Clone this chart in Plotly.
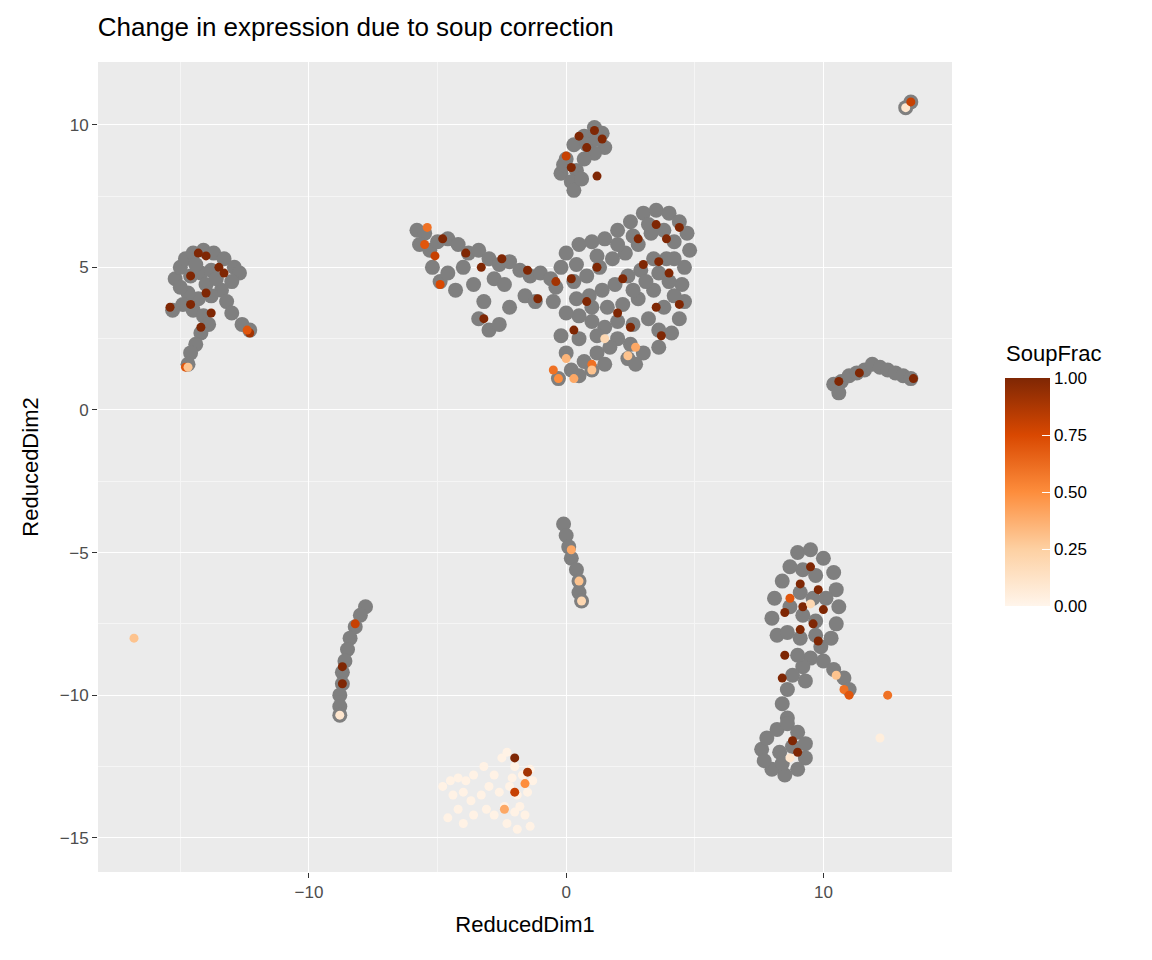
import plotly.graph_objects as go

# grey cells (no soup fraction)
grey_x = [-15.2,-15.0,-14.8,-14.5,-14.1,-13.7,-13.3,-12.9,-12.7,-13.0,-13.4,-13.8,-14.3,-14.7,-15.0,-14.6,-14.2,-13.8,-14.0,-13.6,-14.4,-14.9,-15.3,-14.5,-14.1,-13.9,-14.2,-14.4,-14.6,-14.7,-13.2,-13.0,-12.6,-12.3,
          -0.2,0.0,0.3,0.7,1.1,1.4,1.5,1.1,0.7,0.4,0.2,0.3,0.8,1.2,-0.1,0.6,
          -5.8,-5.5,-5.7,-5.3,-5.0,-4.6,-4.2,-3.8,-3.4,-3.0,-2.6,-2.2,-1.8,-1.4,-1.0,-0.6,-5.2,-4.9,-4.6,-4.0,-3.6,-3.2,-3.4,-3.0,-2.6,-2.2,-2.8,-2.4,-1.6,-1.2,-4.3,
          0.0,0.5,1.0,1.5,2.0,2.5,3.0,3.5,4.0,4.4,4.7,4.8,4.6,4.5,4.6,4.4,4.1,3.6,3.0,2.5,2.0,1.5,1.0,0.5,0.0,-0.5,-0.4,0.3,0.8,1.3,1.8,2.3,2.8,3.3,3.8,4.2,3.9,3.4,2.9,2.4,1.9,1.4,0.9,0.4,1.0,1.6,2.2,2.8,3.4,4.0,3.8,3.2,2.6,2.0,3.6,4.2,2.6,3.1,3.6,4.2,2.0,2.6,3.2,1.2,0.4,-0.2,1.7,1.2,0.7,0.2,-0.3,0.5,1.0,1.5,2.4,2.7,0.0,-0.2,0.5,1.2,
          10.4,10.7,11.0,11.3,11.6,11.9,12.2,12.5,12.8,13.1,13.4,10.6,
          13.2,13.4,
          -0.1,0.0,0.1,0.2,0.4,0.5,0.5,0.6,
          -7.8,-8.0,-8.2,-8.4,-8.5,-8.6,-8.7,-8.7,-8.8,-8.8,-8.8,
          9.0,9.5,10.0,10.4,10.5,10.6,10.5,10.3,9.9,9.5,9.2,8.8,8.6,8.4,8.6,8.2,8.0,8.1,8.4,8.7,9.2,9.7,9.1,9.6,10.1,8.7,9.2,9.7,8.6,9.1,9.7,9.0,10.0,10.4,10.8,11.0,9.3,
          7.6,7.8,8.2,8.6,9.0,9.3,9.3,9.0,8.5,8.0,7.7,8.3,8.8,8.4]
grey_y = [4.6,5.0,5.3,5.5,5.6,5.5,5.3,5.0,4.8,4.5,4.2,4.0,3.9,4.1,4.3,4.7,4.8,4.9,4.4,4.6,5.1,3.7,3.5,3.5,3.3,3.0,2.7,2.3,2.0,1.6,3.8,3.4,3.0,2.8,
          8.3,8.8,9.3,9.6,9.9,9.7,9.2,9.0,8.8,8.4,8.0,7.7,9.3,9.5,8.6,8.1,
          6.3,6.2,5.8,5.6,5.9,6.0,5.8,5.5,5.6,5.3,5.1,5.2,4.9,4.7,4.8,4.6,5.0,4.5,4.8,5.0,4.4,3.8,3.2,2.8,3.0,3.6,4.6,4.4,4.0,3.8,4.2,
          5.5,5.8,5.9,6.0,6.3,6.6,6.9,7.0,6.9,6.6,6.2,5.6,5.0,4.4,3.8,3.2,2.7,2.2,2.0,2.3,2.5,2.9,3.1,3.3,3.4,3.8,4.3,4.5,4.7,5.0,5.3,5.5,5.8,6.2,6.3,5.9,5.3,5.3,4.9,4.7,4.4,4.2,4.0,3.9,3.6,3.6,3.7,3.9,4.2,4.5,3.6,3.2,3.0,3.1,2.8,4.0,4.2,4.5,4.8,5.3,5.8,6.1,6.5,5.4,5.1,5.0,2.2,2.0,1.7,1.4,1.1,1.2,1.4,1.6,1.8,1.6,2.0,2.6,2.5,2.6,
          0.9,1.0,1.2,1.3,1.4,1.6,1.5,1.4,1.3,1.2,1.1,0.6,
          10.6,10.8,
          -4.0,-4.4,-4.8,-5.2,-5.6,-6.0,-6.4,-6.7,
          -6.9,-7.2,-7.6,-8.0,-8.4,-8.8,-9.2,-9.6,-10.0,-10.4,-10.7,
          -5.0,-4.9,-5.2,-5.7,-6.3,-6.9,-7.5,-8.0,-8.3,-8.7,-9.0,-9.3,-9.8,-10.3,-10.8,-7.9,-7.3,-6.6,-6.0,-5.5,-5.6,-5.8,-6.4,-6.6,-6.6,-6.9,-7.2,-7.4,-7.8,-8.0,-7.9,-8.6,-8.8,-9.1,-9.4,-9.8,-9.5,
          -11.9,-11.5,-11.2,-11.0,-11.3,-11.7,-12.2,-12.6,-12.8,-12.6,-12.3,-12.0,-11.8,-12.4]

# cells with a soup fraction
soup_x = [-14.3,-14.0,-13.5,-14.6,-13.3,-14.0,-13.8,-15.4,-14.6,-14.2,-12.3,-12.4,-14.8,-14.7,
          1.1,1.4,0.8,0.5,0.0,0.2,1.2,
          -5.4,-5.5,-5.1,-4.8,-4.9,-3.9,-3.3,-2.5,-1.5,-3.2,-1.1,
          3.5,2.8,3.9,4.4,3.0,3.6,2.2,1.2,0.2,0.8,2.0,3.5,4.4,2.5,3.7,0.3,2.4,2.7,1.5,1.0,-0.5,-0.3,0.3,1.0,0.0,-0.4,4.0,
          13.2,13.4,10.6,13.5,11.4,
          0.2,0.5,0.6,
          -8.2,-8.7,-8.7,-8.8,-16.8,
          9.5,9.1,9.8,8.7,9.2,10.0,9.6,8.5,9.1,8.5,8.4,9.8,10.5,10.8,11.0,12.5,12.2,9.5,
          8.8,9.0,8.7,
          -4.8,-4.5,-4.2,-3.9,-3.6,-4.4,-4.0,-3.7,-4.2,-4.0,-3.6,-4.6,-3.3,-3.0,-3.2,-2.8,-2.5,-2.3,-2.0,-1.7,-1.4,-2.6,-2.2,-1.9,-1.5,-2.4,-2.0,-1.6,-1.4,-1.9,-2.3,-2.8,-3.1,-1.3,-2.1,-1.8,
          -2.0,-1.5,-2.0,-1.6,-2.4]
soup_y = [5.5,5.4,5.0,4.7,4.8,4.1,3.4,3.6,3.7,2.9,2.7,2.8,1.5,1.5,
          9.8,9.5,9.2,9.6,8.9,8.5,8.2,
          6.4,5.8,5.4,6.0,4.4,5.5,5.0,5.3,4.9,3.2,3.9,
          6.5,6.0,6.0,6.4,5.1,5.2,4.6,5.0,4.6,3.8,3.4,3.6,3.7,2.9,2.6,2.8,1.9,2.2,2.5,1.6,1.4,1.1,1.1,1.4,1.8,4.5,4.8,
          10.6,10.8,1.0,1.1,1.3,
          -4.9,-6.0,-6.7,
          -7.5,-9.0,-9.6,-10.7,-8.0,
          -5.5,-6.1,-6.3,-6.6,-6.9,-7.0,-7.5,-7.1,-7.7,-8.6,-9.4,-8.1,-9.3,-9.8,-10.0,-10.0,-11.5,-6.8,
          -11.6,-12.0,-12.2,
          -13.2,-13.0,-12.9,-13.0,-12.8,-13.5,-13.4,-13.7,-14.0,-14.5,-14.2,-14.3,-13.5,-13.2,-12.5,-12.8,-12.2,-12.0,-12.5,-12.8,-12.6,-13.4,-13.2,-13.5,-13.4,-13.9,-14.1,-14.2,-14.6,-14.7,-14.5,-14.2,-14.0,-13.0,-12.9,-13.9,
          -12.2,-12.7,-13.4,-13.1,-14.0]
soup_frac = [1,1,1,1,1,1,1,1,1,1,0.9,0.7,0.7,0.3,
             1,1,1,1,0.8,1,1,
             0.6,0.7,0.8,1,0.75,1,1,1,1,1,1,
             1,1,1,1,1,1,1,1,1,1,1,1,1,1,1,1,0.3,0.4,0.2,0.6,0.6,0.5,0.4,0.3,0.35,0.9,1,
             0.1,0.8,1,1,1,
             0.4,0.3,0.2,
             0.8,1,1,0.1,0.3,
             1,1,1,0.7,1,1,1,1,1,1,1,1,0.3,0.6,0.7,0.6,0.05,0.2,
             1,1,0.1,
             0.02,0.02,0.02,0.02,0.02,0.02,0.02,0.02,0.02,0.02,0.02,0.02,0.02,0.02,0.02,0.02,0.02,0.02,0.02,0.02,0.02,0.02,0.02,0.02,0.02,0.02,0.02,0.02,0.02,0.02,0.02,0.02,0.02,0.02,0.02,0.02,
             1,0.9,0.8,0.5,0.4]

oranges = [[0, "#FFF5EB"], [0.25, "#FDD0A2"], [0.5, "#FD8D3C"], [0.75, "#D94801"], [1, "#7F2704"]]

fig = go.Figure()
fig.add_trace(go.Scatter(x=grey_x, y=grey_y, mode="markers", showlegend=False,
                         marker=dict(color="#7F7F7F", size=15, line=dict(width=0)), hoverinfo="skip"))
fig.add_trace(go.Scatter(x=soup_x, y=soup_y, mode="markers", showlegend=False,
                         marker=dict(color=soup_frac, colorscale=oranges, cmin=0, cmax=1, size=9,
                                     line=dict(width=0),
                                     colorbar=dict(tickvals=[0, 0.25, 0.5, 0.75, 1],
                                                   ticktext=["0.00", "0.25", "0.50", "0.75", "1.00"],
                                                   tickfont=dict(size=17), lenmode="pixels", len=248,
                                                   thickness=45, x=1.05, xanchor="left",
                                                   y=0.469, yanchor="middle", outlinewidth=0,
                                                   ticks="inside", tickcolor="white", ticklen=8))))

# colorbar title placed as an annotation so it clears the top tick label
fig.add_annotation(text="SoupFrac", xref="paper", yref="paper", x=1.061, y=0.64,
                   xanchor="left", yanchor="middle", showarrow=False, font=dict(size=22))

axis = dict(showgrid=True, gridcolor="white", gridwidth=1.3, zeroline=False, ticks="outside",
            ticklen=5, tickcolor="#333333", tickfont=dict(size=17, color="#4D4D4D"),
            minor=dict(showgrid=True, gridcolor="#F5F5F5", gridwidth=0.7, dtick=5))
fig.update_xaxes(axis, range=[-18.2, 15.0], tickvals=[-10, 0, 10], tick0=0,
                 title=dict(text="ReducedDim1", font=dict(size=22, color="black")))
fig.update_yaxes(axis, range=[-16.2, 12.2], tickvals=[-15, -10, -5, 0, 5, 10], tick0=0,
                 title=dict(text="ReducedDim2", font=dict(size=22, color="black")))
fig.update_yaxes(minor=dict(dtick=2.5, tick0=0))
fig.update_layout(width=1152, height=960, plot_bgcolor="#EBEBEB", paper_bgcolor="white",
                  font=dict(family="Liberation Sans, Arial", color="black"),
                  title=dict(text="Change in expression due to soup correction", x=0.078, y=0.99,
                             font=dict(size=26)),
                  margin=dict(l=90, r=208, t=54, b=96, autoexpand=False))
fig.write_html("out.html")
